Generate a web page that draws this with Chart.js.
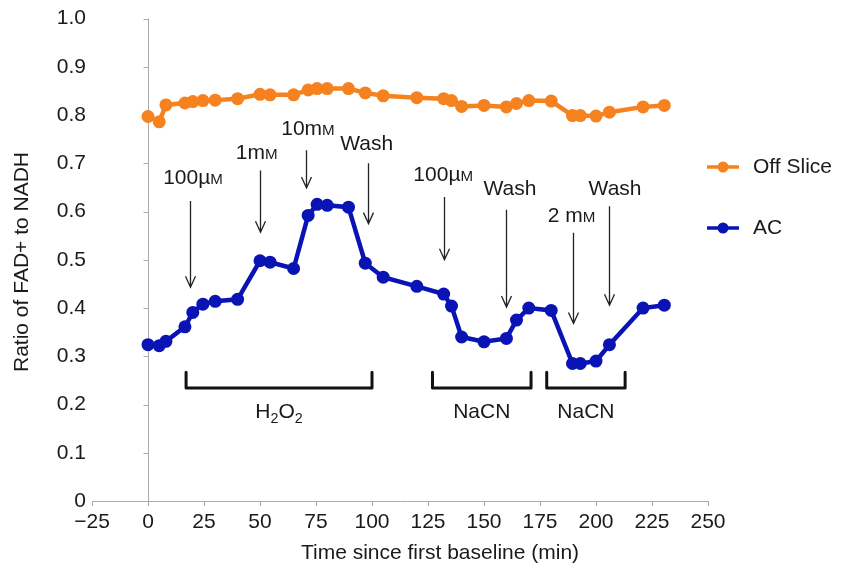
<!DOCTYPE html>
<html><head><meta charset="utf-8">
<script src="https://cdn.jsdelivr.net/npm/chart.js@4.4.1/dist/chart.umd.min.js"></script>
<style>html,body{margin:0;padding:0;background:#fff}#wrap{width:848px;height:572px;position:relative}</style>
</head><body><div id="wrap"><canvas id="c" width="848" height="572"></canvas></div>
<script>
// ---- data ----
const times    = [0,5,8,16.5,20,24.5,30,40,50,54.5,65,71.5,75.5,80,89.5,97,105,120,132,135.5,140,150,160,164.5,170,180,189.5,193,200,206,221,230.5];
const offSlice = [0.797,0.786,0.821,0.825,0.828,0.830,0.831,0.834,0.843,0.842,0.842,0.852,0.855,0.855,0.855,0.846,0.840,0.836,0.834,0.830,0.818,0.820,0.817,0.824,0.830,0.829,0.799,0.799,0.798,0.806,0.817,0.820];
const ac       = [0.324,0.322,0.331,0.361,0.391,0.408,0.414,0.418,0.498,0.495,0.482,0.592,0.615,0.613,0.609,0.493,0.464,0.445,0.429,0.404,0.340,0.330,0.337,0.375,0.400,0.395,0.285,0.285,0.290,0.324,0.400,0.406];
const seriesNames = ['Off Slice','AC'];

// treatment arrows (data units)
const arrowMain  = ['100\u00b5','1m','10m','Wash','100\u00b5','Wash','2 m','Wash'];
const arrowSmall = ['M','M','M','','M','','M',''];
const arrowX     = [18.75,50,70.4,98,132,159.7,189.6,205.7];
const arrowTop   = [0.622,0.685,0.727,0.700,0.630,0.604,0.556,0.611];
const arrowTip   = [0.443,0.557,0.649,0.575,0.500,0.402,0.368,0.406];
const labelX     = [20.1,48.5,71.4,97.6,131.8,161.6,189.1,208.5];
const labelY     = [0.673,0.725,0.775,0.744,0.680,0.651,0.594,0.651];

// treatment brackets (data units)
const bracketStart = [17,127,178];
const bracketEnd   = [100,171,213];
const bracketLabel = ['H2O2','NaCN','NaCN'];
const bracketTop = 0.267, bracketBottom = 0.234, bracketTextY = 0.188;

const xTitle = 'Time since first baseline (min)';
const yTitle = 'Ratio of FAD+ to NADH';

// ---- styles ----
const ORANGE = '#F5821F';
const BLUE = '#0A14B4';
const GRAY = '#ababab';
const TEXT = '#1a1a1a';
const FONT = "'Liberation Sans', Arial, Helvetica, sans-serif";
const FS = 21;

function drawParts(ctx, parts, cx, cy) {
  let w = 0;
  parts.forEach(p => { ctx.font = `${p.s}px ${FONT}`; p.w = ctx.measureText(p.t).width; w += p.w; });
  let x = cx - w / 2;
  const base = cy + FS * 0.36;
  ctx.textAlign = 'left';
  ctx.textBaseline = 'alphabetic';
  parts.forEach(p => { ctx.font = `${p.s}px ${FONT}`; ctx.fillText(p.t, x, base + (p.dy || 0)); x += p.w; });
}
function richLabel(str) {
  if (str === 'H2O2') return [{t:'H',s:FS},{t:'2',s:FS*0.68,dy:5},{t:'O',s:FS},{t:'2',s:FS*0.68,dy:5}];
  return [{t:str,s:FS}];
}

const annot = {
  id: 'annot',
  beforeDatasetsDraw(chart) {
    const ctx = chart.ctx, xs = chart.scales.x, ys = chart.scales.y;
    const x0 = Math.round(xs.getPixelForValue(0)) + 0.5;
    ctx.save();
    ctx.strokeStyle = GRAY; ctx.lineWidth = 1;
    ctx.beginPath();
    ctx.moveTo(x0, ys.getPixelForValue(1)); ctx.lineTo(x0, ys.getPixelForValue(0));
    for (let v = 0; v <= 1.0001; v += 0.1) {
      const y = Math.round(ys.getPixelForValue(v)) + 0.5;
      ctx.moveTo(x0 - 5, y); ctx.lineTo(x0, y);
    }
    ctx.stroke();
    ctx.restore();
  },
  afterDatasetsDraw(chart) {
    const ctx = chart.ctx, xs = chart.scales.x, ys = chart.scales.y;
    ctx.save();
    ctx.fillStyle = TEXT;
    // arrows
    ctx.strokeStyle = '#222'; ctx.lineWidth = 1.3;
    arrowX.forEach((v, i) => {
      const x = Math.round(xs.getPixelForValue(v)) + 0.5;
      const yt = ys.getPixelForValue(arrowTop[i]);
      const yb = ys.getPixelForValue(arrowTip[i]);
      ctx.beginPath();
      ctx.moveTo(x, yt); ctx.lineTo(x, yb);
      ctx.moveTo(x - 5, yb - 11); ctx.lineTo(x, yb); ctx.lineTo(x + 5, yb - 11);
      ctx.stroke();
      const parts = [{t: arrowMain[i], s: FS}];
      if (arrowSmall[i]) parts.push({t: arrowSmall[i], s: FS * 0.72});
      drawParts(ctx, parts, xs.getPixelForValue(labelX[i]), ys.getPixelForValue(labelY[i]));
    });
    // brackets
    ctx.strokeStyle = '#111'; ctx.lineWidth = 3; ctx.lineJoin = 'round'; ctx.lineCap = 'round';
    bracketStart.forEach((s, i) => {
      const x1 = xs.getPixelForValue(s), x2 = xs.getPixelForValue(bracketEnd[i]);
      const yt = ys.getPixelForValue(bracketTop), yb = ys.getPixelForValue(bracketBottom);
      ctx.beginPath();
      ctx.moveTo(x1, yt); ctx.lineTo(x1, yb); ctx.lineTo(x2, yb); ctx.lineTo(x2, yt);
      ctx.stroke();
      drawParts(ctx, richLabel(bracketLabel[i]), (x1 + x2) / 2, ys.getPixelForValue(bracketTextY));
    });
    // legend
    const legY = [167, 228];
    chart.data.datasets.forEach((ds, i) => {
      const y = legY[i];
      ctx.strokeStyle = ds.borderColor; ctx.lineWidth = 3.5; ctx.lineCap = 'butt';
      ctx.beginPath(); ctx.moveTo(707, y); ctx.lineTo(739, y); ctx.stroke();
      ctx.fillStyle = ds.borderColor;
      ctx.beginPath(); ctx.arc(723, y, 5.5, 0, Math.PI * 2); ctx.fill();
      ctx.fillStyle = TEXT;
      ctx.font = `${FS}px ${FONT}`; ctx.textAlign = 'left'; ctx.textBaseline = 'middle';
      ctx.fillText(ds.label, 753, y);
    });
    // axis titles
    ctx.fillStyle = TEXT;
    ctx.font = `${FS}px ${FONT}`; ctx.textAlign = 'center'; ctx.textBaseline = 'middle';
    ctx.fillText(xTitle, 440, 553);
    ctx.translate(22, 262); ctx.rotate(-Math.PI / 2);
    ctx.fillText(yTitle, 0, 0);
    ctx.restore();
  }
};

const mk = (arr) => times.map((t, i) => ({x: t, y: arr[i]}));
const dsStyle = (c) => ({borderColor: c, backgroundColor: c, borderWidth: 4.5, pointRadius: 6.5, pointHoverRadius: 6.5, pointBorderWidth: 0, tension: 0, clip: false});

new Chart(document.getElementById('c'), {
  type: 'line',
  data: {datasets: [
    Object.assign({label: seriesNames[0], data: mk(offSlice)}, dsStyle(ORANGE)),
    Object.assign({label: seriesNames[1], data: mk(ac)}, dsStyle(BLUE))
  ]},
  options: {
    responsive: false, animation: false, events: [],
    layout: {padding: {left: 0, right: 140, top: 18, bottom: 0}},
    plugins: {legend: {display: false}, tooltip: {enabled: false}},
    scales: {
      x: {type: 'linear', min: -25, max: 250,
        ticks: {stepSize: 25, padding: 4, color: TEXT, font: {family: FONT, size: FS},
          callback: v => v < 0 ? '\u2212' + Math.abs(v) : String(v)},
        grid: {display: true, drawOnChartArea: false, drawTicks: true, tickLength: 5, color: GRAY},
        border: {display: true, color: GRAY},
        afterFit: s => { s.height = 71; }},
      y: {min: 0, max: 1,
        ticks: {stepSize: 0.1, padding: 6, color: TEXT, font: {family: FONT, size: FS},
          callback: v => Math.abs(v) < 1e-9 ? '0' : v.toFixed(1)},
        grid: {display: false, drawTicks: false}, border: {display: false},
        afterFit: s => { s.width = 92; }}
    }
  },
  plugins: [annot]
});
</script></body></html>
